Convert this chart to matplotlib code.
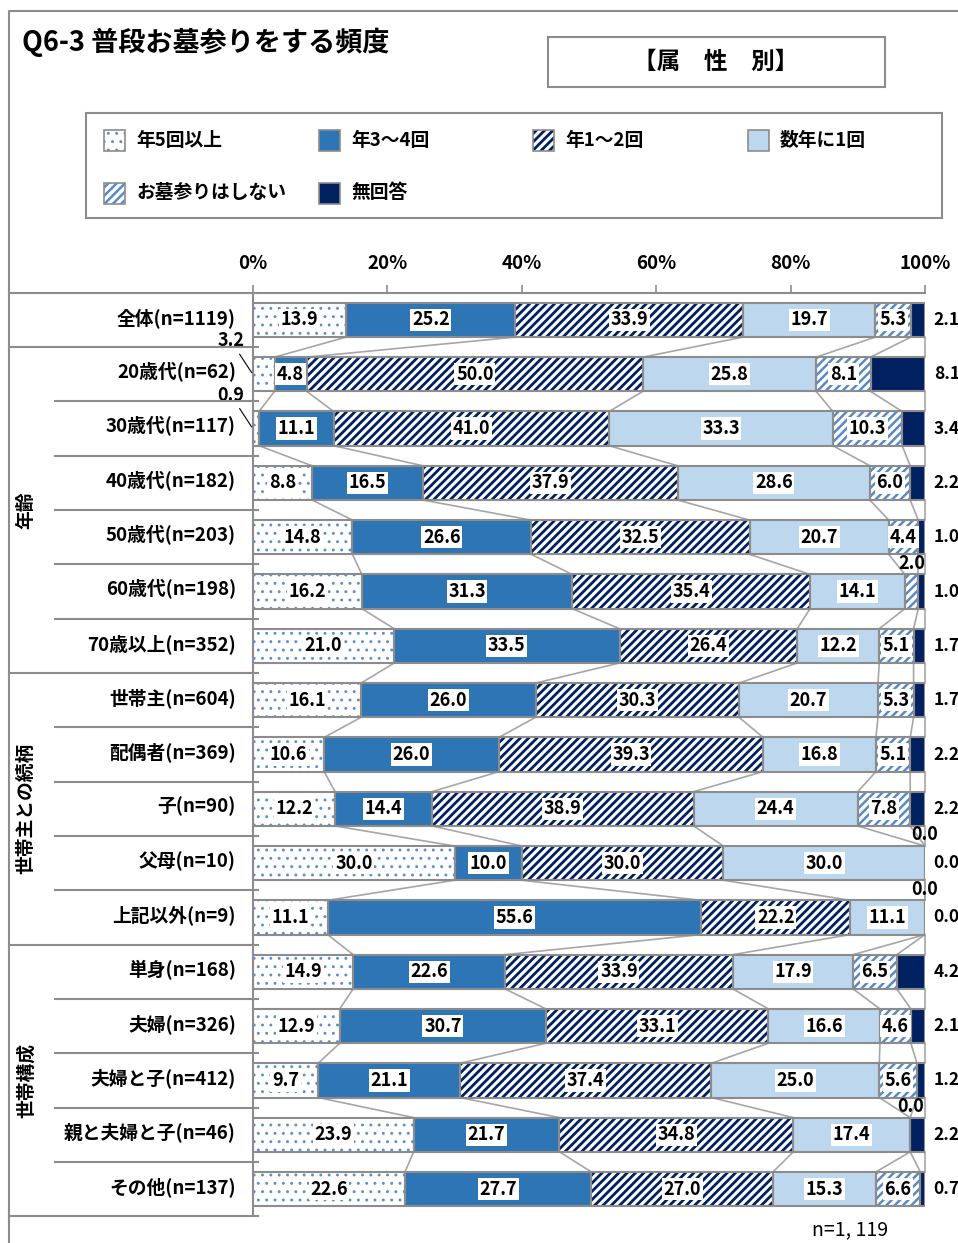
import numpy as np
import matplotlib
matplotlib.use("Agg")
import matplotlib.pyplot as plt
from matplotlib.patches import Rectangle
from matplotlib.lines import Line2D
from matplotlib.transforms import blended_transform_factory

plt.rcParams['font.family'] = ['Noto Sans CJK JP', 'DejaVu Sans']
plt.rcParams['hatch.linewidth'] = 2.0

# data
categories = ["全体(n=1119)",
              "20歳代(n=62)", "30歳代(n=117)", "40歳代(n=182)", "50歳代(n=203)",
              "60歳代(n=198)", "70歳以上(n=352)",
              "世帯主(n=604)", "配偶者(n=369)", "子(n=90)", "父母(n=10)", "上記以外(n=9)",
              "単身(n=168)", "夫婦(n=326)", "夫婦と子(n=412)", "親と夫婦と子(n=46)", "その他(n=137)"]
series_names = ["年5回以上", "年3～4回", "年1～2回", "数年に1回", "お墓参りはしない", "無回答"]
v_5plus = [13.9, 3.2, 0.9, 8.8, 14.8, 16.2, 21.0, 16.1, 10.6, 12.2, 30.0, 11.1, 14.9, 12.9, 9.7, 23.9, 22.6]
v_3to4 = [25.2, 4.8, 11.1, 16.5, 26.6, 31.3, 33.5, 26.0, 26.0, 14.4, 10.0, 55.6, 22.6, 30.7, 21.1, 21.7, 27.7]
v_1to2 = [33.9, 50.0, 41.0, 37.9, 32.5, 35.4, 26.4, 30.3, 39.3, 38.9, 30.0, 22.2, 33.9, 33.1, 37.4, 34.8, 27.0]
v_few = [19.7, 25.8, 33.3, 28.6, 20.7, 14.1, 12.2, 20.7, 16.8, 24.4, 30.0, 11.1, 17.9, 16.6, 25.0, 17.4, 15.3]
v_none = [5.3, 8.1, 10.3, 6.0, 4.4, 2.0, 5.1, 5.3, 5.1, 7.8, 0.0, 0.0, 6.5, 4.6, 5.6, 0.0, 6.6]
v_na = [2.1, 8.1, 3.4, 2.2, 1.0, 1.0, 1.7, 1.7, 2.2, 2.2, 0.0, 0.0, 4.2, 2.1, 1.2, 2.2, 0.7]
groups = [("年齢", 1, 6), ("世帯主との続柄", 7, 11), ("世帯構成", 12, 16)]

fills = ["white", "#2E75B6", "white", "#BDD7EE", "white", "#002060"]
hatch_colors = ["#5B8FC9", "#2E75B6", "#002060", "#BDD7EE", "#5A8AC6", "#002060"]
hatches = ["..", None, "////", None, "////", None]
hatch_lw = [0.9, 2.0, 2.0, 2.0, 1.8, 2.0]
GRAY = "#8C8C8C"

W, H = 958, 1243
fig = plt.figure(figsize=(W / 100, H / 100), dpi=100)


def fx(x):
    return x / W


def fy(y):
    return 1 - y / H


ax = fig.add_axes([fx(253), fy(1216.2), 672 / W, (1216.2 - 292.8) / H])

vals = np.array([v_5plus, v_3to4, v_1to2, v_few, v_none, v_na]).T
n = len(categories)
rows = np.arange(n)
norm = vals / vals.sum(axis=1, keepdims=True) * 100
cum = np.cumsum(norm, axis=1)
left = cum - norm
bh = 0.63

for k in range(6):
    with plt.rc_context({'hatch.linewidth': hatch_lw[k]}):
        ax.barh(rows, norm[:, k], left=left[:, k], height=bh, color=fills[k],
                edgecolor=hatch_colors[k], hatch=hatches[k], linewidth=0, zorder=2)
    ax.barh(rows, norm[:, k], left=left[:, k], height=bh, fill=False,
            edgecolor=GRAY, linewidth=1.5, zorder=3)

# series lines between bars
for i in range(n - 1):
    for k in range(6):
        ax.plot([cum[i, k], cum[i + 1, k]], [i + bh / 2, i + 1 - bh / 2],
                color="#A6A6A6", lw=1.2, zorder=1, clip_on=False)

ax.set_xlim(0, 100)
ax.set_ylim(n - 0.5, -0.5)
ax.set_yticks([])
ax.xaxis.tick_top()
ax.set_xticks([0, 20, 40, 60, 80, 100])
ax.set_xticklabels([f"{t}%" for t in [0, 20, 40, 60, 80, 100]], fontsize=13.5, fontweight="bold")
ax.tick_params(axis="x", direction="out", length=6, width=1.2, color=GRAY, pad=8)
for s in ["right", "bottom"]:
    ax.spines[s].set_visible(False)
for s in ["top", "left"]:
    ax.spines[s].set_color(GRAY)
    ax.spines[s].set_linewidth(1.5)

lbl = dict(fontsize=13, fontweight="bold", ha="center", va="center", zorder=5)
box = dict(facecolor="white", edgecolor="none", pad=1.2)
for i in rows:
    for k in range(5):
        v = vals[i, k]
        c = left[i, k] + norm[i, k] / 2
        if k == 0 and v < 4:
            ax.annotate(f"{v:.1f}", xy=(-0.2, i - 0.03), xytext=(-15, 23), textcoords="offset points",
                        annotation_clip=False, arrowprops=dict(arrowstyle="-", color="black", lw=0.8,
                                                               shrinkA=1, shrinkB=0), **lbl)
        elif k == 4 and v < 2.5:
            ax.text(c, i - 0.52, f"{v:.1f}", **lbl)
        else:
            ax.text(c, i, f"{v:.1f}", bbox=box, **lbl)
    ax.text(101.3, i, f"{vals[i, 5]:.1f}", fontsize=12.5, fontweight="bold", ha="left",
            va="center", clip_on=False)

# left table
bt = blended_transform_factory(fig.transFigure, ax.transData)
for i, c in enumerate(categories):
    fig.text(fx(236), i - 0.04, c, transform=bt, ha="right", va="center", fontsize=13.5, fontweight="bold")
group_edges = [-0.5, 0.5] + [g[2] + 0.5 for g in groups]
for b in np.arange(-0.5, n, 1.0):
    x0 = 9 if b in group_edges else 55
    fig.add_artist(Line2D([fx(x0), fx(258)], [b, b], transform=bt, color=GRAY, lw=1.5))
for name, a, b in groups:
    fig.text(fx(26), (a + b) / 2, name, transform=bt, rotation=90, ha="center", va="center",
             fontsize=13.5, fontweight="bold")

# outer frame
fig.add_artist(Line2D([fx(9), fx(9), fx(958)], [0, fy(11), fy(11)], color=GRAY, lw=1.5))

# title and header box
fig.text(fx(22), fy(42), "Q6-3 普段お墓参りをする頻度", fontsize=19.5, fontweight="bold",
         ha="left", va="center")
fig.add_artist(Rectangle((fx(548), fy(87)), fx(337), 50 / H, fill=False, edgecolor=GRAY, lw=1.5))
fig.text(fx(716), fy(62), "【属　性　別】", fontsize=17, fontweight="bold", ha="center", va="center")

# legend
fig.add_artist(Rectangle((fx(86), fy(218)), fx(856), 105 / H, fill=False, edgecolor=GRAY, lw=1.5))
leg_pos = [(104, 140), (319, 140), (533, 140), (748, 140), (104, 193), (319, 193)]
for k, (px, py) in enumerate(leg_pos):
    with plt.rc_context({'hatch.linewidth': hatch_lw[k]}):
        fig.add_artist(Rectangle((fx(px), fy(py + 11)), fx(21), 21 / H, facecolor=fills[k],
                                 edgecolor=hatch_colors[k], hatch=hatches[k], lw=0))
    fig.add_artist(Rectangle((fx(px), fy(py + 11)), fx(21), 21 / H, fill=False, edgecolor=GRAY, lw=1.2))
    fig.text(fx(px + 32), fy(py), series_names[k], fontsize=13.5, fontweight="bold", ha="left", va="center")

fig.text(fx(850), fy(1230), "n=1, 119", fontsize=14, ha="center", va="center")

fig.savefig("out.png", dpi=100)
